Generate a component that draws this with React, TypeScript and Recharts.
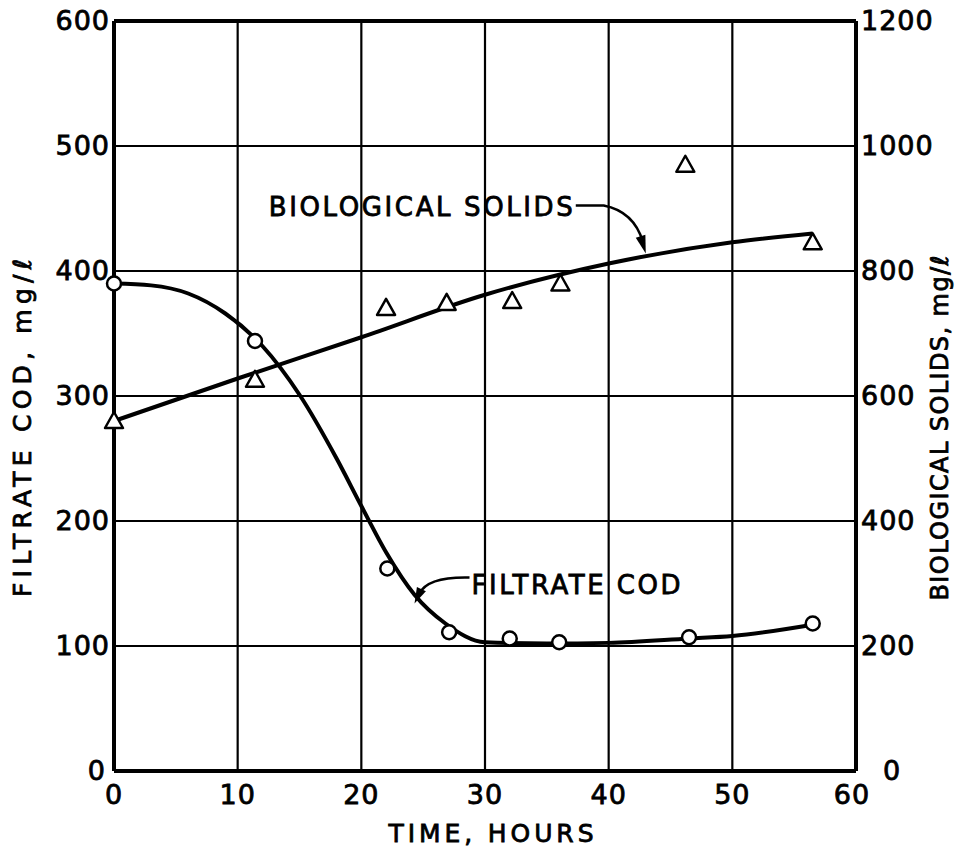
import {
  CartesianGrid,
  ComposedChart,
  Line,
  ReferenceDot,
  ReferenceLine,
  Scatter,
  XAxis,
  YAxis,
} from 'recharts';

const timeTicks = [0, 10, 20, 30, 40, 50, 60];
const codTicks = [0, 100, 200, 300, 400, 500, 600];
const solidsTicks = [0, 200, 400, 600, 800, 1000, 1200];

// measured points
const codHours = [0, 11.4, 22.1, 27.1, 32, 36, 46.5, 56.5];
const codValues = [390, 344, 162, 111, 106, 103, 107, 118];
const solidsHours = [0, 11.4, 22, 26.9, 32.2, 36.1, 46.2, 56.5];
const solidsValues = [560, 626, 741, 749, 752, 780, 970, 846];

// hand-drawn curves
const codCurveHours = [0, 3, 6, 9, 12, 15, 18, 20, 22, 24.3, 26.8, 30, 35, 40, 46.5, 50, 56.5];
const codCurveValues = [390, 388.5, 382, 366, 340, 301, 250, 212, 175, 141, 118, 103, 102, 102.5, 106, 108, 117];
const solidsCurveHours = [0, 10, 20, 30, 40, 50, 56.5];
const solidsCurveValues = [560, 628, 694, 762, 812, 846, 860];

const FONT = '"DejaVu Sans", sans-serif';

const pairs = (xs: number[], ys: number[]) => xs.map((t, i) => ({ t, v: ys[i] }));

const codPoints = pairs(codHours, codValues);
const solidsPoints = pairs(solidsHours, solidsValues);
const codCurve = pairs(codCurveHours, codCurveValues);
const solidsCurve = pairs(solidsCurveHours, solidsCurveValues);

const txt = { fontFamily: FONT, fill: '#000', stroke: '#000', strokeWidth: 0.8 };

const LeftTick = ({ x, y, payload }: any) => (
  <text x={payload.value === 0 ? x - 4 : x} y={y + 9} textAnchor="end" fontSize={27} letterSpacing={1} {...txt}>
    {payload.value}
  </text>
);

const RightTick = ({ x, y, payload }: any) => (
  <text x={payload.value === 0 ? x + 22 : x} y={y + 9} textAnchor="start" fontSize={27} letterSpacing={1} {...txt}>
    {payload.value}
  </text>
);

const BottomTick = ({ x, y, payload }: any) => (
  <text x={payload.value === 60 ? x - 4 : x} y={y + 33} textAnchor="middle" fontSize={27} letterSpacing={1} {...txt}>
    {payload.value}
  </text>
);

const Circle = ({ cx, cy }: any) => (
  <circle cx={cx} cy={cy} r={7} fill="#fff" stroke="#000" strokeWidth={2.5} />
);

const Triangle = ({ cx, cy }: any) => (
  <polygon
    points={`${cx},${cy - 9} ${cx + 9},${cy + 7} ${cx - 9},${cy + 7}`}
    fill="#fff"
    stroke="#000"
    strokeWidth={2.5}
    strokeLinejoin="round"
  />
);

const SolidsNote = ({ cx, cy }: any) => (
  <g>
    <text x={cx - 73} y={cy - 38} textAnchor="end" fontSize={26} textLength={304} lengthAdjust="spacing" {...txt}>
      BIOLOGICAL SOLIDS
    </text>
    <path
      d={`M${cx - 70},${cy - 48} L${cx - 42},${cy - 48} Q${cx - 12},${cy - 42} ${cx - 3},${cy - 12}`}
      fill="none"
      stroke="#000"
      strokeWidth={2.5}
    />
    <path d={`M${cx},${cy} L${cx - 0.4},${cy - 18.7} L${cx - 10},${cy - 15.8} Z`} fill="#000" />
  </g>
);

const CodNote = ({ cx, cy }: any) => (
  <g>
    <text x={cx + 57} y={cy - 10} textAnchor="start" fontSize={26} textLength={209} lengthAdjust="spacing" {...txt}>
      FILTRATE COD
    </text>
    <path
      d={`M${cx + 55},${cy - 26} Q${cx + 13},${cy - 27} ${cx + 5},${cy - 10}`}
      fill="none"
      stroke="#000"
      strokeWidth={2.5}
    />
    <path d={`M${cx},${cy} L${cx + 11.4},${cy - 12.2} L${cx + 2.4},${cy - 16.6} Z`} fill="#000" />
  </g>
);

const LeftTitle = ({ viewBox }: any) => {
  const cx = viewBox.x + 22;
  const cy = viewBox.y + viewBox.height / 2 + 32;
  return (
    <text x={cx} y={cy} transform={`rotate(-90 ${cx} ${cy})`} textAnchor="middle" dominantBaseline="central"
      fontSize={25} textLength={338} lengthAdjust="spacing" {...txt}>
      FILTRATE COD, mg/ℓ
    </text>
  );
};

const RightTitle = ({ viewBox }: any) => {
  const cx = viewBox.x + 84;
  const cy = viewBox.y + viewBox.height / 2 + 32;
  return (
    <text x={cx} y={cy} transform={`rotate(-90 ${cx} ${cy})`} textAnchor="middle" dominantBaseline="central"
      fontSize={24} textLength={345} lengthAdjust="spacing" {...txt}>
      BIOLOGICAL SOLIDS, mg/ℓ
    </text>
  );
};

const BottomTitle = ({ viewBox }: any) => {
  const cx = viewBox.x + viewBox.width / 2 + 6;
  const cy = viewBox.y + 71;
  return (
    <text x={cx} y={cy} textAnchor="middle" fontSize={25} textLength={205} lengthAdjust="spacing" {...txt}>
      TIME, HOURS
    </text>
  );
};

export default function App() {
  return (
    <div style={{ position: 'absolute', left: 0, top: 0, background: '#fff' }}>
      <ComposedChart width={959} height={856} margin={{ top: 21, right: 0, bottom: 0, left: 0 }}>
        <CartesianGrid yAxisId="left" stroke="#000" strokeWidth={2.2} />
        <XAxis
          type="number"
          dataKey="t"
          domain={[0, 60]}
          ticks={timeTicks}
          height={85}
          tickSize={0}
          tickMargin={0}
          tickLine={false}
          axisLine={{ stroke: '#000', strokeWidth: 4 }}
          tick={<BottomTick />}
          label={<BottomTitle />}
        />
        <YAxis
          yAxisId="left"
          dataKey="v"
          domain={[0, 600]}
          ticks={codTicks}
          width={114}
          tickSize={0}
          tickMargin={4}
          tickLine={false}
          axisLine={{ stroke: '#000', strokeWidth: 4 }}
          tick={<LeftTick />}
          label={<LeftTitle />}
        />
        <YAxis
          yAxisId="right"
          orientation="right"
          dataKey="v"
          domain={[0, 1200]}
          ticks={solidsTicks}
          width={103}
          tickSize={0}
          tickMargin={5}
          tickLine={false}
          axisLine={{ stroke: '#000', strokeWidth: 4 }}
          tick={<RightTick />}
          label={<RightTitle />}
        />
        <ReferenceLine yAxisId="left" y={600} stroke="#000" strokeWidth={4} />
        <Line
          yAxisId="right"
          data={solidsCurve}
          dataKey="v"
          type="monotone"
          stroke="#000"
          strokeWidth={4}
          dot={false}
          activeDot={false}
          isAnimationActive={false}
        />
        <Line
          yAxisId="left"
          data={codCurve}
          dataKey="v"
          type="monotone"
          stroke="#000"
          strokeWidth={4}
          dot={false}
          activeDot={false}
          isAnimationActive={false}
        />
        <Scatter yAxisId="left" data={codPoints} dataKey="v" shape={<Circle />} isAnimationActive={false} />
        <Scatter yAxisId="right" data={solidsPoints} dataKey="v" shape={<Triangle />} isAnimationActive={false} />
        <ReferenceDot yAxisId="right" x={43} y={828} r={0} shape={<SolidsNote />} />
        <ReferenceDot yAxisId="left" x={24.3} y={134} r={0} shape={<CodNote />} />
      </ComposedChart>
    </div>
  );
}
